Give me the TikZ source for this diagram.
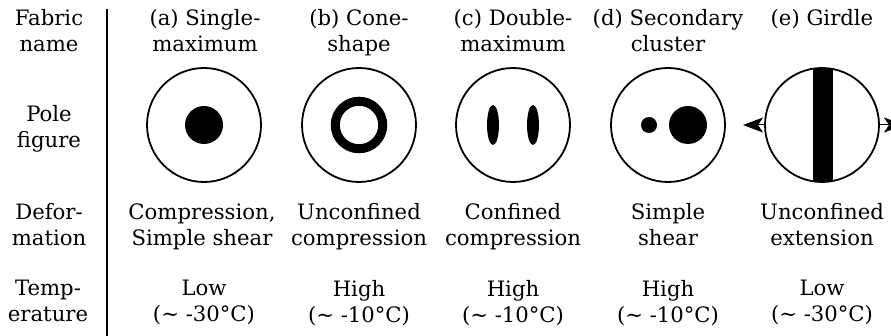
\documentclass[tikz,border=0pt]{standalone}
\usepackage{fontspec}
\setmainfont{DejaVu Serif}
\usetikzlibrary{arrows.meta}

\begin{document}
\begin{tikzpicture}[x=1pt, y=-1pt, >={Stealth[length=20pt, width=15pt, inset=5pt]},
  cell/.style={anchor=north, align=center, inner sep=0pt, font=\fontsize{21.2}{26}\selectfont},
  pole/.style={circle, draw, line width=1.8pt, minimum size=114pt, inner sep=0pt}]
  \useasboundingbox (0,0) rectangle (891,336);
  % row titles
  \node[cell] (tname) at (49,9) {Fabric\\name};
  \node[cell] (tpole) at (49,105.5) {Pole\\figure};
  \node[cell] (tdef) at (49,203.4) {Defor-\\mation};
  \node[cell] (ttemp) at (48,280) {Temp-\\erature};
  \draw[line width=1.4pt] (107,9) -- (107,336);
  % fabric names
  \node[cell] (na) at (205,9) {(a) Single-\\maximum};
  \node[cell] (nb) at (359,9) {(b) Cone-\\shape};
  \node[cell] (nc) at (513,9) {(c) Double-\\maximum};
  \node[cell] (nd) at (668,9) {(d) Secondary\\cluster};
  \node[cell] (ne) at (822,9) {(e) Girdle};
  % pole figures
  \node[pole] (pa) at (204,125) {};
  \node[pole] (pb) at (359,125) {};
  \node[pole] (pc) at (513,125) {};
  \node[pole] (pd) at (668,125) {};
  \node[pole] (pe) at (822,125) {};
  \fill (pa.center) circle (19);
  \draw[line width=9pt] (pb.center) circle (23.75);
  \fill ([xshift=-20pt]pc.center) ellipse (6 and 20);
  \fill ([xshift=20pt]pc.center) ellipse (6 and 20);
  \fill ([xshift=-19pt]pd.center) circle (8);
  \fill ([xshift=20pt]pd.center) circle (19);
  \begin{scope}
    \clip (pe.center) circle (57);
    \fill (813,60) rectangle (833,190);
  \end{scope}
  \coordinate (wl) at (743,125);
  \coordinate (wr) at (904,125);
  \draw[->, line width=1pt] (pe.west) -- (wl);
  \draw[->, line width=1pt] (pe.east) -- (wr);
  % deformation
  \node[cell] (da) at (202,203.4) {Compression,\\Simple shear};
  \node[cell] (db) at (359,203.4) {Unconfined\\compression};
  \node[cell] (dc) at (513,203.4) {Confined\\compression};
  \node[cell] (dd) at (668,203.4) {Simple\\shear};
  \node[cell] (de) at (822,203.4) {Unconfined\\extension};
  % temperature
  \node[cell] (ka) at (204,280) {Low\\(\textasciitilde{} -30°C)};
  \node[cell] (kb) at (359,280) {High\\(\textasciitilde{} -10°C)};
  \node[cell] (kc) at (513,280) {High\\(\textasciitilde{} -10°C)};
  \node[cell] (kd) at (668,280) {High\\(\textasciitilde{} -10°C)};
  \node[cell] (ke) at (822,280) {Low\\(\textasciitilde{} -30°C)};
\end{tikzpicture}
\end{document}
